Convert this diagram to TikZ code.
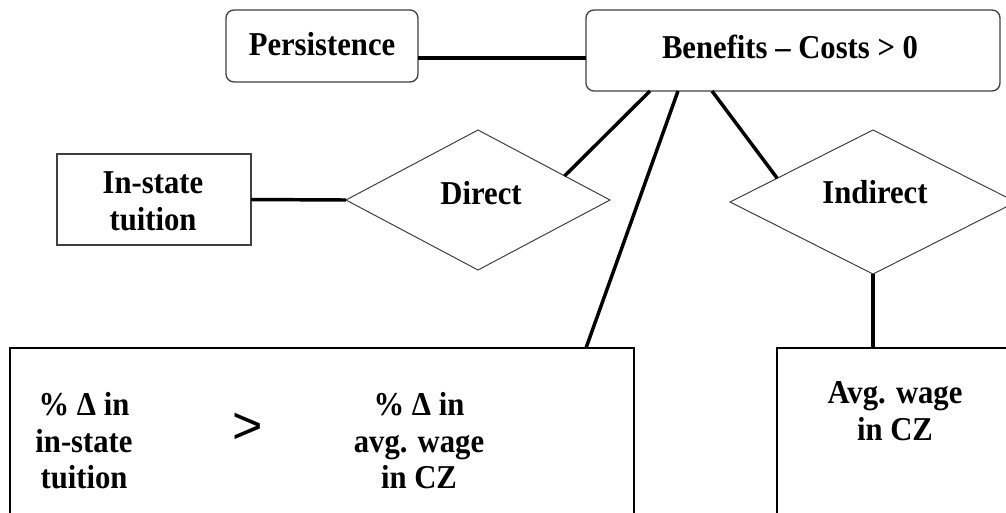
\documentclass[tikz,border=0pt]{standalone}
\usepackage{fontspec}
\setmainfont{Liberation Serif}[FakeStretch=0.92]
\newfontfamily\gtfont{Liberation Sans}
\usetikzlibrary{shapes.geometric,calc}
\begin{document}
\begin{tikzpicture}[x=0.75pt,y=-0.75pt,
  every node/.style={outer sep=0pt},
  lbl/.style={font=\fontsize{25}{27.4}\selectfont\bfseries,align=center,inner sep=0pt},
  rbox/.style={draw=black!75,line width=1pt,rounded corners=6pt,inner sep=0pt},
  sbox/.style={draw=black!75,line width=1pt,inner sep=0pt},
  bigbox/.style={draw=black,line width=1.5pt,inner sep=0pt},
  dia/.style={draw=black!75,line width=0.75pt,shape=diamond,inner sep=0pt},
  conn/.style={draw=black,line width=2.6pt}]
\useasboundingbox (0,0) rectangle (1006,512);
\clip (0,0) rectangle (1006,512);
% boxes
\node[rbox,minimum width=144pt,minimum height=54pt] (pers) at (322,46) {};
\node[lbl,anchor=base] (perst) at (322,55) {Persistence};
\node[rbox,minimum width=310.5pt,minimum height=60.75pt] (ben) at (793,50.5) {};
\node[lbl,anchor=base] (bent) at (790,58) {Benefits -- Costs > 0};
\node[sbox,minimum width=145.5pt,minimum height=68.25pt] (ist) at (154,199.5) {};
\node[lbl] (istt) at (153,201.5) {In-state\\tuition};
\node[dia,minimum width=198pt,minimum height=105pt] (dir) at (478,200) {};
\node[lbl,anchor=base] (dirt) at (481,204) {Direct};
\node[dia,minimum width=214.5pt,minimum height=108pt] (ind) at (873,202) {};
\node[lbl,anchor=base] (indt) at (875,203) {Indirect};
\node[bigbox,minimum width=468pt,minimum height=144pt] (big) at (322,444) {};
\node[lbl] (lt) at (84,441) {\% Δ in\\in-state\\tuition};
\node[inner sep=0pt,font=\gtfont\fontsize{39}{39}\selectfont] (gt) at (248,428) {>};
\node[lbl] (rt) at (419,441) {\% Δ in\\avg. wage\\in CZ};
\node[bigbox,minimum width=197.25pt,minimum height=144pt] (avg) at (908.5,444) {};
\node[lbl] (avgt) at (895,411) {Avg. wage\\in CZ};
% connection points
\coordinate (b1) at ($(ben.south west)+(64,0)$);
\coordinate (b2) at ($(ben.south west)+(92,0)$);
\coordinate (b3) at ($(ben.south west)+(126,0)$);
\coordinate (d1) at ($(dir.north)!0.656!(dir.east)$);
\coordinate (i1) at ($(ind.west)!0.33!(ind.north)$);
\coordinate (g1) at ($(big.north east)+(-48,0)$);
% connectors
\draw[conn] ([yshift=-9pt]pers.east) -- ([yshift=-9pt]pers.east -| ben.west);
\draw[conn] (ist.east) -- (dir.west);
\draw[conn] (b1) -- (d1);
\draw[conn] (b2) -- (g1);
\draw[conn] (b3) -- (i1);
\draw[conn] (ind.south) -- (ind.south |- avg.north);
\end{tikzpicture}
\end{document}
